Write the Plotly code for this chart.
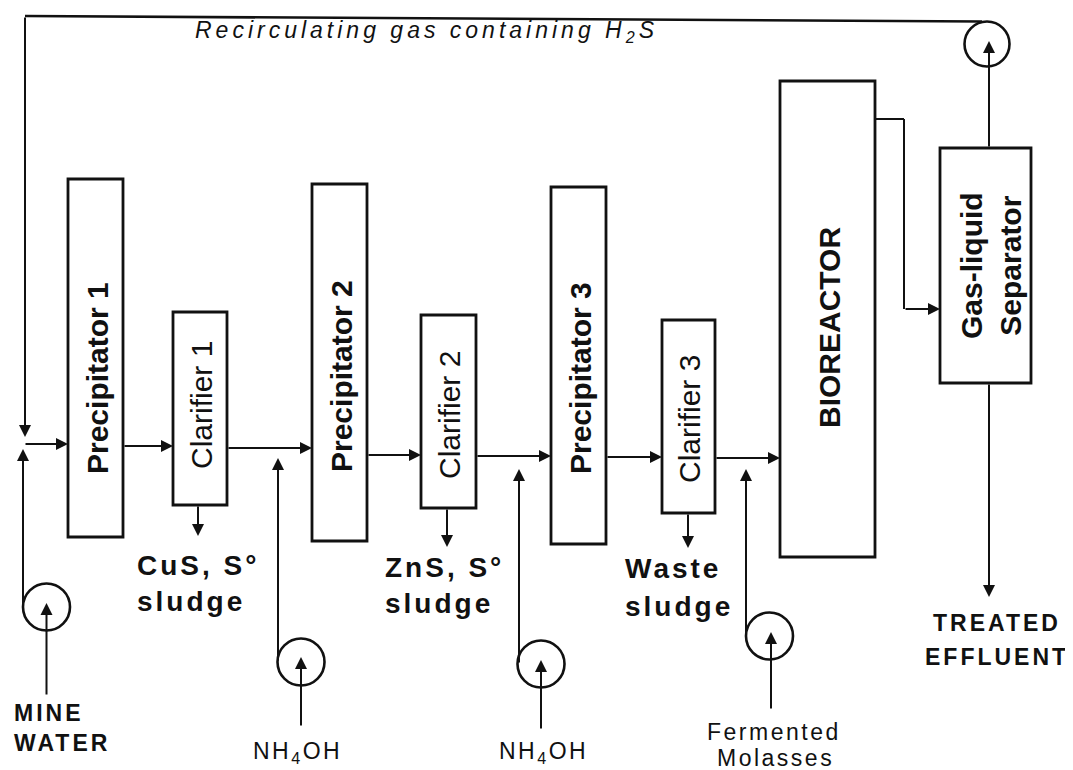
import plotly.graph_objects as go

# ---------------- data (labels) ----------------
unit_labels = ["Precipitator 1", "Clarifier 1", "Precipitator 2", "Clarifier 2",
               "Precipitator 3", "Clarifier 3", "BIOREACTOR", "Gas-liquid<br>Separator"]
unit_bold = [True, False, True, False, True, False, True, True]
sludge_labels = [["CuS, S°", "sludge"], ["ZnS, S°", "sludge"], ["Waste", "sludge"]]
feed_labels = [["MINE", "WATER"], ["NH<sub>4</sub>OH"], ["NH<sub>4</sub>OH"], ["Fermented", "Molasses"]]
effluent_label = ["TREATED", "EFFLUENT"]
gas_label = "Recirculating gas containing H<sub>2</sub>S"

# ---------------- geometry (pixel coordinates of the drawing) ----------------
W, H = 1073, 770
OFF = 8  # page body margin compensation
# boxes: x0, x1, y0, y1
unit_boxes = [(68, 123, 179, 537), (173, 227, 312, 505), (312, 367, 184, 541), (421, 476, 315, 508),
              (551, 606, 187, 544), (662, 715, 320, 513), (780, 875, 81, 557), (940, 1031, 148, 383)]
unit_text_pos = [(97, 378), (201, 405), (341, 376), (449, 415), (580, 378), (689, 419), (829, 328), (991, 266)]
# main flow arrows: x_from, x_to, y
flow_arrows = [(24, 68, 444), (123, 173, 446), (227, 312, 448), (367, 421, 455),
               (476, 551, 456), (606, 662, 457), (715, 780, 458)]
# sludge down arrows: x, y_from, y_to
sludge_arrows = [(198, 505, 536), (447, 508, 547), (688, 513, 548)]
sludge_text_pos = [(135, 565, 601), (383, 567, 603), (623, 568, 606)]
# pumps (circles): cx, cy, r ; inlet arrow x, y_from, y_to ; riser x, y_tip
pumps = [(46.5, 607, 23.5), (301, 662, 23.5), (541, 664, 23.5), (769.5, 636, 23.5)]
pump_inlets = [(46.5, 696, 603), (301, 727, 657), (541, 730, 660), (771, 710, 632)]
pump_risers = [(23, 449), (278, 458), (519, 469), (746, 469)]
feed_text = [[(12, 713, "left"), (12, 743, "left")], [(297, 752, "center")], [(543, 752, "center")],
             [(774, 732, "center"), (775, 758, "center")]]
recirc_pump = (987, 44, 22.5)

FONT = "Liberation Sans, Arial, Helvetica, sans-serif"
LC = "#111111"

fig = go.Figure()
shapes = []
ann = []


def spaced(t, ls):
    return f'<span style="letter-spacing:{ls}px">{t}</span>'


def arrow(x0, y0, x1, y1, w=2.0):
    ann.append(dict(x=x1, y=y1, ax=x0, ay=y0, xref="x", yref="y", axref="x", ayref="y",
                    text="", showarrow=True, arrowhead=2, arrowsize=1.2, arrowwidth=w,
                    arrowcolor=LC, standoff=0, startstandoff=0))


def line(x0, y0, x1, y1, w=2.0):
    shapes.append(dict(type="line", x0=x0, y0=y0, x1=x1, y1=y1, xref="x", yref="y",
                       line=dict(color=LC, width=w)))


# unit boxes and labels
for (x0, x1, y0, y1), lab, b, (tx, ty) in zip(unit_boxes, unit_labels, unit_bold, unit_text_pos):
    shapes.append(dict(type="rect", x0=x0, x1=x1, y0=y0, y1=y1, xref="x", yref="y",
                       line=dict(color=LC, width=2.8), fillcolor="white"))
    txt = f"<b>{lab}</b>" if b else lab
    ann.append(dict(x=tx, y=ty, xref="x", yref="y", text=txt, showarrow=False, textangle=-90,
                    font=dict(family=FONT, size=30, color=LC), xanchor="center", yanchor="middle"))

# main flow arrows
for xa, xb, y in flow_arrows:
    arrow(xa, y, xb, y)

# sludge draws + labels
for (x, ya, yb), labs, (tx, ty1, ty2) in zip(sludge_arrows, sludge_labels, sludge_text_pos):
    arrow(x, ya, x, yb)
    for lab, ty in zip(labs, (ty1, ty2)):
        ann.append(dict(x=tx, y=ty, xref="x", yref="y", text="<b>" + spaced(lab, 3) + "</b>",
                        showarrow=False, xanchor="left", yanchor="middle",
                        font=dict(family=FONT, size=28, color=LC)))

# pumps and feed streams
for (cx, cy, r), (ix, iy0, iy1), (rx, rtip), labs, poss, k in zip(
        pumps, pump_inlets, pump_risers, feed_labels, feed_text, range(4)):
    shapes.append(dict(type="circle", x0=cx - r, x1=cx + r, y0=cy - r, y1=cy + r, xref="x", yref="y",
                       line=dict(color=LC, width=2.6)))
    arrow(ix, iy0, ix, iy1)
    arrow(rx, cy, rx, rtip)
    for lab, (tx, ty, anc) in zip(labs, poss):
        if k == 0:
            txt = "<b>" + spaced(lab, 3) + "</b>"
        else:
            txt = spaced(lab, 2.5)
        ann.append(dict(x=tx, y=ty, xref="x", yref="y", text=txt, showarrow=False,
                        xanchor=anc, yanchor="middle", font=dict(family=FONT, size=23, color=LC)))

# recirculating gas loop
cx, cy, r = recirc_pump
shapes.append(dict(type="circle", x0=cx - r, x1=cx + r, y0=cy - r, y1=cy + r, xref="x", yref="y",
                   line=dict(color=LC, width=2.6)))
arrow(989, 148, 989, 41)
line(25, 16, 982, 21.5, 2.6)
arrow(25, 16, 25, 437)
ann.append(dict(x=193, y=31, xref="x", yref="y", text="<i>" + spaced(gas_label, 4) + "</i>",
                showarrow=False, xanchor="left", yanchor="middle",
                font=dict(family=FONT, size=23, color=LC)))

# bioreactor -> separator pipe
line(875, 119, 904, 119)
line(904, 119, 904, 309)
arrow(904, 309, 940, 309)

# treated effluent
arrow(989, 383, 989, 597)
for lab, ty in zip(effluent_label, (623, 657)):
    ann.append(dict(x=997, y=ty, xref="x", yref="y", text="<b>" + spaced(lab, 3) + "</b>",
                    showarrow=False, xanchor="center", yanchor="middle",
                    font=dict(family=FONT, size=23, color=LC)))

fig.update_layout(width=W - OFF, height=H - OFF, margin=dict(l=0, r=0, t=0, b=0),
                  paper_bgcolor="white", plot_bgcolor="white",
                  xaxis=dict(range=[OFF, W], visible=False, fixedrange=True),
                  yaxis=dict(range=[H, OFF], visible=False, fixedrange=True),
                  shapes=shapes, annotations=ann, showlegend=False)
fig.write_html("out.html")
